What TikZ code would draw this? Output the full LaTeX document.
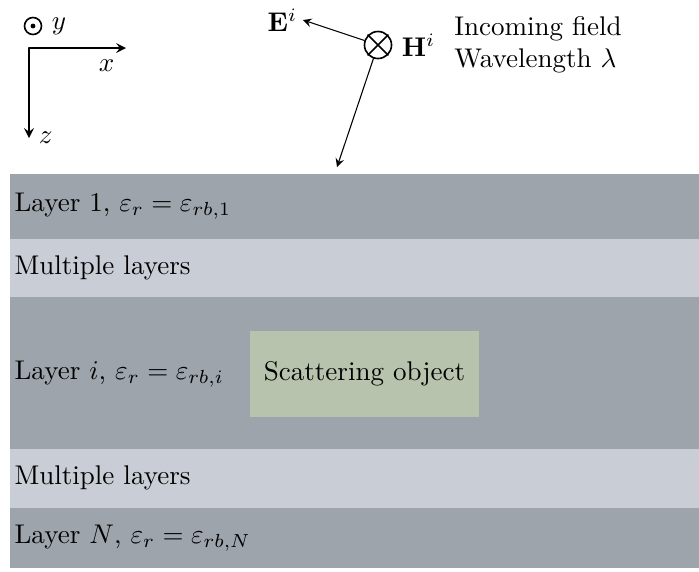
\documentclass[tikz,border=0pt]{standalone}
\usetikzlibrary{positioning}
\definecolor{layerdark}{RGB}{158,164,171}
\definecolor{layerlight}{RGB}{201,205,213}
\definecolor{objgreen}{RGB}{184,195,174}
\tikzset{
  layertext/.style={anchor=west,inner sep=1.5pt},
  fieldcirc/.style={draw,circle,inner sep=0pt,semithick}
}
\begin{document}
\begin{tikzpicture}[x=0.37pt,y=-0.37pt,line join=round,line cap=round,>=stealth]
\useasboundingbox (0,0) rectangle (699,571);
% layers
\foreach \ya/\yb/\c in {174/239/layerdark,239/297/layerlight,297/449/layerdark,449/508/layerlight,508/568/layerdark}
\fill[\c] (10,\ya) rectangle (699,\yb);
\node[layertext] (layA) at (10,206) {Layer 1, $\varepsilon_r=\varepsilon_{rb,1}$};
\node[layertext] (multA) at (10,268) {Multiple layers};
\node[layertext] (layI) at (10,374) {Layer $i$, $\varepsilon_r=\varepsilon_{rb,i}$};
\node[layertext] (multB) at (10,478) {Multiple layers};
\node[layertext] (layN) at (10,538) {Layer $N$, $\varepsilon_r=\varepsilon_{rb,N}$};
\node[fill=objgreen,minimum width=84.7pt,minimum height=31.8pt] (obj) at (364.5,374) {Scattering object};
% axes
\coordinate (O) at (29,48);
\coordinate (xtip) at (126,48);
\coordinate (ztip) at (29,138);
\draw[semithick,->] (O)--(xtip) node[below left,inner sep=4pt] {$x$};
\draw[semithick,->] (O)--(ztip) node[right] {$z$};
\node[fieldcirc,minimum size=6.3pt] (ydot) at (33,26) {};
\fill (ydot.center) circle (0.9pt);
\node[right] (ylab) at (ydot.east) {$y$};
% incoming field
\node[fieldcirc,minimum size=10pt] (H) at (378,45) {};
\draw[semithick] (H.north west)--(H.south east) (H.north east)--(H.south west);
\coordinate (Etip) at (303,20);
\coordinate (ktip) at (337,167);
\draw[->] (H)--(Etip) node[left,inner sep=2pt] (Elab) {$\mathbf{E}^i$};
\draw[->] (H)--(ktip);
\node[right] (Hlab) at (H.east) {$\mathbf{H}^i$};
\node[right=0pt of Hlab,align=left] (info) {Incoming field\\Wavelength $\lambda$};
\end{tikzpicture}
\end{document}
